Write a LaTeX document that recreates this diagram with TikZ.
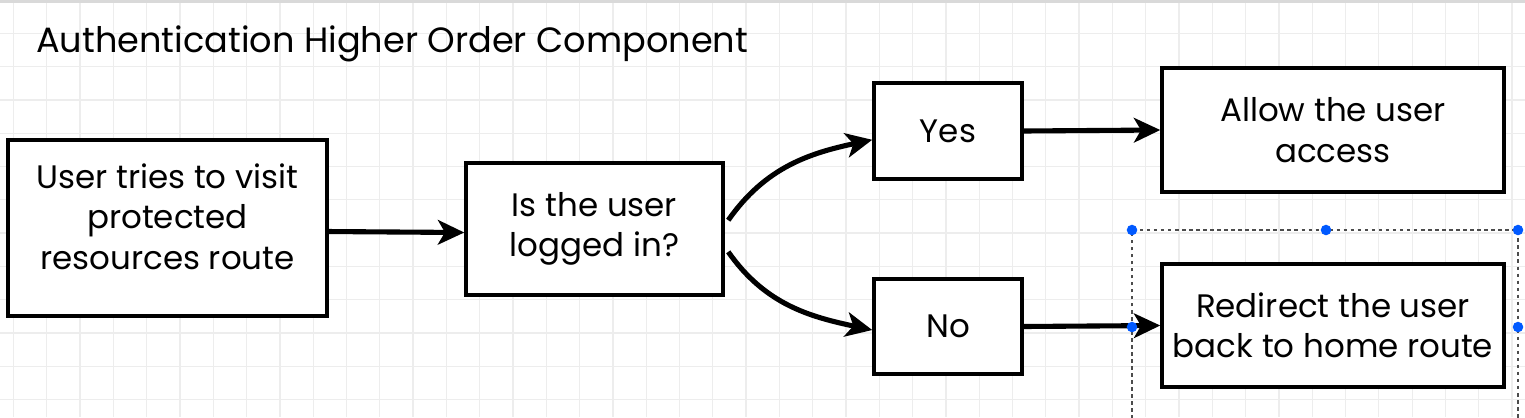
\documentclass[tikz,border=0pt]{standalone}
\usepackage{fontspec}
\setmainfont{Poppins}
\usetikzlibrary{arrows.meta}

\begin{document}
\begin{tikzpicture}[
            x=0.02cm, y=-0.02cm,
            box/.style={draw, line width=2pt, fill=white, align=center, font=\fontsize{18.5}{23}\selectfont},
            link/.style={line width=2.9pt, -{Stealth[length=15pt, width=14pt, inset=4pt]}},
            gridline/.style={black!7, line width=0.7pt},
            handle/.style={circle, fill=blue!65!cyan, inner sep=0pt, minimum size=6pt},
            ]
            \useasboundingbox (0,0) rectangle (1525,417);
            \fill[white] (0,0) rectangle (1525,417);
            \foreach \gx in {13.5,46.8,...,1525} \draw[gridline] (\gx,0) -- (\gx,417);
            \foreach \gy in {0,33.3,...,417} \draw[gridline] (0,\gy) -- (1525,\gy);
            \fill[black!15] (0,0) rectangle (1525,3);

            \node[anchor=base west, font=\fontsize{20}{24}\selectfont] (title) at (30,52) {Authentication Higher Order Component};

            \node[box, minimum width=6.38cm, minimum height=3.52cm] (visit) at (167.5,228) {User tries to visit\\protected\\resources route\\[-0.35cm]};
            \node[box, minimum width=5.14cm, minimum height=2.64cm] (check) at (594.5,229) {Is the user\\logged in?};
            \node[box, minimum width=2.96cm, minimum height=1.92cm] (yes) at (948,131) {Yes};
            \node[box, minimum width=2.96cm, minimum height=1.9cm] (no) at (948,326.5) {No};
            \node[box, minimum width=6.84cm, minimum height=2.48cm] (allow) at (1333,130) {Allow the user\\access};
            \node[box, minimum width=6.84cm, minimum height=2.46cm] (redirect) at (1333,325.5) {Redirect the user\\back to home route};

            \draw[link] ([yshift=-2pt]visit.east) -- ([yshift=-2pt]check.west);
            \draw[link] ([xshift=2pt, yshift=5pt]check.east) to[out=55, in=192] ([yshift=-5pt]yes.west);
            \draw[link] ([xshift=2pt, yshift=-13pt]check.east) to[out=-55, in=168] ([yshift=-2pt]no.west);
            \draw[link] (yes.east) -- (allow.west);
            \draw[link] (no.east) -- (redirect.west);

            % selection frame
            \draw[black!70, line width=0.6pt, dash pattern=on 2pt off 2pt] (1132,440) -- (1132,230) -- (1518,230) -- (1518,440);
            \foreach \hx/\hy in {1132/230, 1326/230, 1518/230, 1132/327, 1518/327}
                \node[handle] at (\hx,\hy) {};
        \end{tikzpicture}
\end{document}
